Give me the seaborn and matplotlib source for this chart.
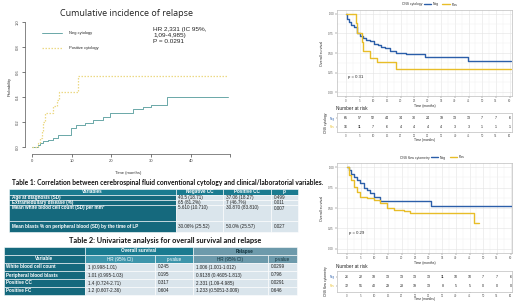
import numpy as np
import pandas as pd
import matplotlib
matplotlib.use("Agg")
import matplotlib.pyplot as plt
import seaborn as sns
from matplotlib.patches import Rectangle
from matplotlib.lines import Line2D

sns.set_style("white")
plt.rcParams['font.family'] = ['Liberation Sans', 'DejaVu Sans']

# ---------------- data ----------------
# cumulative incidence of relapse
ci_neg_t = [0, 1.5, 2.0, 2.8, 4.1, 5.4, 6.6, 9.9, 11.2, 13.3, 15.4, 17.9, 19.6, 25.5, 28.0, 30.1, 34.1, 49.4]
ci_neg_p = [0, 0.015, 0.03, 0.045, 0.06, 0.075, 0.10, 0.155, 0.18, 0.195, 0.22, 0.24, 0.27, 0.305, 0.32, 0.34, 0.40, 0.40]
ci_pos_t = [0, 1.5, 2.0, 2.4, 2.9, 3.3, 5.4, 6.2, 6.8, 11.5, 49.4]
ci_pos_p = [0, 0.03, 0.07, 0.13, 0.20, 0.27, 0.33, 0.38, 0.44, 0.565, 0.565]

# KM: CNS cytology
km1_neg_t = [0, 0.3, 1.0, 1.7, 2.8, 3.9, 5.0, 6.3, 7.5, 8.8, 10.3, 11.8, 13.0, 14.3, 16.1, 18.5, 22.0, 28.9, 44.8, 60.5]
km1_neg_s = [1.0, 0.94, 0.90, 0.86, 0.83, 0.76, 0.72, 0.69, 0.67, 0.65, 0.62, 0.60, 0.58, 0.56, 0.52, 0.50, 0.49, 0.45, 0.40, 0.40]
km1_pos_t = [0, 3.7, 4.0, 5.7, 6.2, 8.8, 11.2, 18.5, 60.5]
km1_pos_s = [1.0, 0.88, 0.76, 0.64, 0.52, 0.43, 0.38, 0.29, 0.29]
risk1_neg = [65, 57, 52, 44, 34, 30, 24, 19, 13, 13, 7, 7, 6]
risk1_pos = [16, 11, 7, 6, 4, 4, 4, 4, 3, 3, 1, 1, 1]

# KM: CNS flow cytometry
km2_neg_t = [0, 0.6, 1.5, 2.4, 3.7, 4.9, 6.1, 7.3, 8.6, 9.8, 12.2, 31.0, 61.0]
km2_neg_s = [1.0, 0.96, 0.92, 0.88, 0.84, 0.80, 0.75, 0.72, 0.68, 0.64, 0.58, 0.52, 0.52]
km2_pos_t = [0, 0.6, 1.5, 2.4, 3.7, 4.9, 7.3, 9.8, 12.2, 14.7, 17.1, 20.8, 23.3, 46.5, 48.3]
km2_pos_s = [1.0, 0.90, 0.84, 0.76, 0.70, 0.64, 0.62, 0.60, 0.56, 0.50, 0.48, 0.46, 0.44, 0.32, 0.32]
risk2_neg = [26, 22, 18, 13, 13, 13, 13, 11, 10, 10, 7, 7, 6]
risk2_pos = [72, 51, 40, 29, 23, 19, 13, 8, 5, 5, 0, 0, 0]
risk_times = [0, 5, 10, 15, 20, 25, 30, 35, 40, 45, 50, 55, 60]

# Table 1
t1_header = ['Variables', 'Negative CC', 'Positive CC', 'p']
t1_vars = ['Age at diagnosis (SD)', 'Extramedullary disease (%)',
           'Mean white blood cell count (SD) per mm\u00b3',
           'Mean blasts % on peripheral blood (SD) by the time of LP']
t1_neg = ['40.5 (18.71)', '65 (81.2%)', '5.610 (10.710)', '30.06% (25.52)']
t1_pos = ['37.06 (18.27)', '7 (46.7%)', '30.870 (83.810)', '50.0% (25.57)']
t1_p = ['0.499', '0.011', '0.007', '0.027']

# Table 2
t2_vars = ['White blood cell count', 'Peripheral blood blasts', 'Positive CC', 'Positive FC']
t2_os_hr = ['1 (0.998-1.01)', '1.01 (0.995-1.03)', '1.4 (0.724-2.71)', '1.2 (0.607-2.36)']
t2_os_p = ['0.245', '0.195', '0.317', '0.604']
t2_rel_hr = ['1.006 (1.001-1.012)', '0.9138 (0.4605-1.813)', '2.331 (1.09-4.985)', '1.233 (0.5051-3.009)']
t2_rel_p = ['0.0299', '0.796', '0.0291', '0.646']

# ---------------- figure ----------------
W, H = 520, 303
fig = plt.figure(figsize=(5.2, 3.03), dpi=100)
fig.patch.set_facecolor('white')


def box(x0, y0, x1, y1):
    return fig.add_axes([x0 / W, 1 - y1 / H, (x1 - x0) / W, (y1 - y0) / H])


canvas = fig.add_axes([0, 0, 1, 1])
canvas.set_xlim(0, W)
canvas.set_ylim(H, 0)
canvas.axis('off')
renderer = fig.canvas.get_renderer()


def fit_text(x, y, s, width, **kw):
    t = canvas.text(x, y, s, fontsize=10, **kw)
    w = t.get_window_extent(renderer=renderer).width
    t.set_fontsize(10 * width / w)
    return t


# ---- cumulative incidence ----
TEAL = '#6aa8a8'
PALEY = '#ecd985'
ax = box(25, 18, 232, 154)
ax.patch.set_alpha(0)
sns.lineplot(x=ci_neg_t, y=ci_neg_p, ax=ax, drawstyle='steps-post', color=TEAL,
             lw=0.7, estimator=None)
sns.lineplot(x=ci_pos_t, y=ci_pos_p, ax=ax, drawstyle='steps-post', color=PALEY,
             lw=0.9, linestyle=(0, (1.2, 1.2)), estimator=None)
ax.set_xlim(-1.76, 50.4)
ax.set_ylim(-0.056, 1.032)
for s in ['top', 'right']:
    ax.spines[s].set_visible(False)
for s in ['left', 'bottom']:
    ax.spines[s].set_color('#555555')
    ax.spines[s].set_linewidth(0.5)
ax.spines['left'].set_bounds(0, 1)
ax.spines['bottom'].set_bounds(0, 50)
ax.set_xticks([0, 10, 20, 30, 40, 50])
ax.set_xticklabels(['0', '10', '20', '30', '40', ''])
ax.set_yticks([0, 0.2, 0.4, 0.6, 0.8, 1.0])
ax.set_yticklabels(['0.0', '0.2', '0.4', '0.6', '0.8', '1.0'], rotation=90, va='center')
ax.tick_params(axis='both', length=2.2, width=0.5, labelsize=3, pad=1.5, colors='#444444',
               left=True, bottom=True)
ax.set_xlabel('Time (months)', fontsize=3, labelpad=6, color='#333333')
ax.set_ylabel('Probability', fontsize=3, labelpad=3, color='#333333')
leg_handles = [Line2D([], [], color=TEAL, lw=0.7),
               Line2D([], [], color=PALEY, lw=0.9, linestyle=(0, (1.2, 1.2)))]
ax.legend(leg_handles, ['Neg cytology', 'Positive cytology'], loc='upper left',
          bbox_to_anchor=(0.063, 0.93), frameon=False, fontsize=2.9, handlelength=5,
          handletextpad=1.8, labelspacing=2.8)

fit_text(126, 13, 'Cumulative incidence of relapse', 133, ha='center', va='center',
         family=['Open Sans', 'DejaVu Sans'], color='#222222')
canvas.text(153, 27.5, 'HR 2,331 (IC 95%,\n1,09-4,985)\nP = 0.0291', ha='left', va='top',
            fontsize=4.6, linespacing=1.15, color='#222222')

# ---- tables ----
DARK = '#15697d'
HEAD = '#1a7b90'
MID = '#3d95ab'
GREYT = '#6d9aab'
LIGHT = '#dae5ec'


def cell(x0, y0, x1, y1, fc, text='', tc='white', bold=False, ha='left', va_y=None, fs=3.3):
    canvas.add_patch(Rectangle((x0, y0), x1 - x0, y1 - y0, facecolor=fc,
                               edgecolor='white', lw=0.4))
    if text:
        ty = (y0 + y1) / 2 if va_y is None else va_y
        tx = x0 + 2.5 if ha == 'left' else (x0 + x1) / 2
        canvas.text(tx, ty, text, ha=ha, va='center', fontsize=fs, color=tc,
                    fontweight='bold' if bold else 'normal')


fit_text(12, 183, 'Table 1: Correlation between cerebrospinal fluid conventional cytology and clinical/laboratorial variables.',
         313, ha='left', va='center', fontweight='bold', family=['Lato', 'DejaVu Sans'], color='#111111')
c1 = [9, 176, 223, 271, 298]
r1 = [188.5, 194.5, 200, 205, 221, 232]
for j, h in enumerate(t1_header):
    cell(c1[j], r1[0], c1[j + 1], r1[1], HEAD, h, bold=True, ha='center')
for i in range(4):
    ty = None if i != 2 else r1[i + 1] + 3
    cell(c1[0], r1[i + 1], c1[1], r1[i + 2], DARK, t1_vars[i], bold=True, va_y=ty)
    for j, col in enumerate([t1_neg, t1_pos, t1_p]):
        cell(c1[j + 1], r1[i + 1], c1[j + 2], r1[i + 2], LIGHT, col[i], tc='#222222', va_y=ty)

fit_text(165, 240, 'Table 2: Univariate analysis for overall survival and relapse', 193,
         ha='center', va='center', fontweight='bold', family=['Lato', 'DejaVu Sans'], color='#111111')
c2 = [4, 85, 155, 193, 268, 297]
r2 = [247, 255, 263, 271, 279, 287, 294.5]
cell(c2[0], r2[0], c2[1], r2[1], DARK)
cell(c2[1], r2[0], c2[3], r2[1], HEAD, 'Overall survival', bold=True, ha='center')
cell(c2[3], r2[0], c2[5], r2[1], GREYT, 'Relapse', bold=True, ha='center', tc='#10303a')
cell(c2[0], r2[1], c2[1], r2[2], DARK, 'Variable', bold=True, ha='center')
for j, h in enumerate(['HR (95% CI)', 'p-value', 'HR (95% CI)', 'p-value']):
    cell(c2[j + 1], r2[1], c2[j + 2], r2[2], MID if j < 2 else GREYT, h, ha='center',
         tc='white' if j < 2 else '#10303a')
for i in range(4):
    cell(c2[0], r2[i + 2], c2[1], r2[i + 3], DARK, t2_vars[i], bold=True)
    for j, col in enumerate([t2_os_hr, t2_os_p, t2_rel_hr, t2_rel_p]):
        cell(c2[j + 1], r2[i + 2], c2[j + 2], r2[i + 3], LIGHT, col[i], tc='#222222')

# ---- Kaplan-Meier panels ----
BLUE = '#2b5ea9'
YEL = '#e8bd28'
pal = {'Neg': BLUE, 'Pos': YEL}


def km_panel(rect, risk_rect, neg_t, neg_s, pos_t, pos_s, risk_neg, risk_pos, title, ptext,
             x0pix, title_x, xlab_y):
    a = box(*rect)
    df = pd.concat([pd.DataFrame({'t': neg_t, 's': neg_s, 'g': 'Neg'}),
                    pd.DataFrame({'t': pos_t, 's': pos_s, 'g': 'Pos'})])
    sns.lineplot(data=df, x='t', y='s', hue='g', palette=pal, ax=a, drawstyle='steps-post',
                 lw=1.0, estimator=None, legend=False)
    a.set_xlim(-(x0pix - rect[0]) / 2.725, 60 + (rect[2] - (x0pix + 60 * 2.725)) / 2.725)
    a.set_ylim(-0.05, 1.05)
    a.set_xticks(risk_times)
    a.set_xticks(np.arange(2.5, 61, 5), minor=True)
    a.set_yticks([0, 0.25, 0.5, 0.75, 1.0])
    a.set_yticks([0.125, 0.375, 0.625, 0.875], minor=True)
    a.set_yticklabels(['0.00', '0.25', '0.50', '0.75', '1.00'])
    a.grid(which='major', color='#e3e3e3', lw=0.4)
    a.grid(which='minor', color='#f0f0f0', lw=0.3)
    a.tick_params(which='major', length=1.2, width=0.3, labelsize=2.1, pad=1, colors='#555555',
                  left=True, bottom=True)
    a.tick_params(which='minor', length=0)
    for s in a.spines.values():
        s.set_color('#bdbdbd')
        s.set_linewidth(0.5)
    a.set_xlabel('Time (months)', fontsize=2.4, labelpad=0.5)
    a.set_ylabel('Overall survival', fontsize=2.6, labelpad=3)
    a.text(0.6, 0.19, ptext, fontsize=3.1, ha='left', va='center', color='#222222')

    r = box(*risk_rect)
    for k, tt in enumerate(risk_times):
        r.text(tt, 1, str(risk_neg[k]), ha='center', va='center', fontsize=2.6, color='#222222')
        r.text(tt, 0, str(risk_pos[k]), ha='center', va='center', fontsize=2.6, color='#222222')
    r.set_xlim(a.get_xlim())
    r.set_ylim(-0.6, 1.6)
    r.set_xticks(risk_times)
    r.set_yticks([1, 0])
    r.set_yticklabels(['Neg', 'Pos'])
    r.tick_params(which='major', length=1.0, width=0.3, labelsize=2.0, pad=0.6, colors='#555555',
                  left=True, bottom=True)
    for lab, c in zip(r.get_yticklabels(), [BLUE, YEL]):
        lab.set_color(c)
    for s in r.spines.values():
        s.set_color('#bdbdbd')
        s.set_linewidth(0.5)
    r.set_xlabel('Time (months)', fontsize=2.3)
    hpx = risk_rect[3] - risk_rect[1]
    r.xaxis.set_label_coords(0.5, -(xlab_y - risk_rect[3]) / hpx)
    r.xaxis.label.set_va('center')
    r.set_ylabel(title, fontsize=2.4, labelpad=1)
    canvas.text(risk_rect[0] - 1, risk_rect[1] - 4.5, 'Number at risk', fontsize=3.4,
                ha='left', va='center', color='#222222')
    # legend above the panel
    t = canvas.text(title_x, rect[1] - 5.5, title, fontsize=2.4, ha='left', va='center', color='#333333')
    a.legend([Line2D([], [], color=BLUE, lw=1.0), Line2D([], [], color=YEL, lw=1.0)],
             ['Neg', 'Pos'], loc='center left',
             bbox_to_anchor=((title_x + t.get_window_extent(renderer=renderer).width + 1 - rect[0]) / (rect[2] - rect[0]),
                             1 + 5.5 / (rect[3] - rect[1])),
             ncol=2, frameon=False, fontsize=2.4, handlelength=2.2, handletextpad=0.6,
             columnspacing=1.0, borderpad=0, borderaxespad=0)


km_panel((337, 10, 512, 96), (337, 113, 512, 132), km1_neg_t, km1_neg_s, km1_pos_t, km1_pos_s,
         risk1_neg, risk1_pos, 'CNS cytology', 'p = 0.31', 346, 402, 140)
km_panel((337, 163, 512, 253), (337, 271, 512, 291.5), km2_neg_t, km2_neg_s, km2_pos_t, km2_pos_s,
         risk2_neg, risk2_pos, 'CNS flow cytometry', 'p = 0.29', 347, 400, 299.3)

fig.savefig('out.png', dpi=100, facecolor='white')
